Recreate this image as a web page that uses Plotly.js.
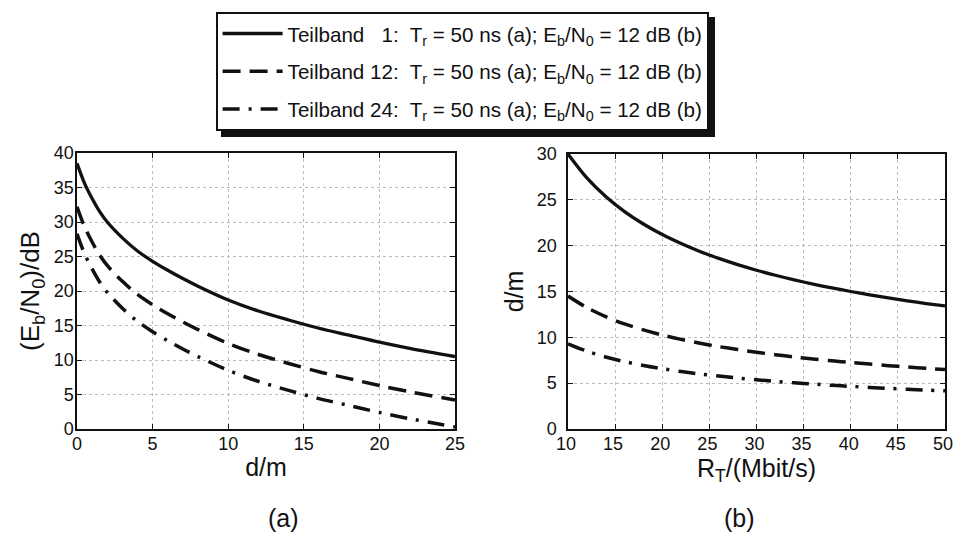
<!DOCTYPE html>
<html>
<head>
<meta charset="utf-8">
<script src="https://cdn.plot.ly/plotly-3.0.1.min.js"></script>
<style>
  html, body { margin: 0; padding: 0; background: #fff; }
  #chart { width: 953px; height: 535px; }
</style>
</head>
<body>
<div id="chart"></div>
<script>
// (a) Eb/N0 over distance d for three subbands
const distM = [0, 0.5, 1, 1.5, 2, 3, 4, 5, 6, 7, 8, 10, 12, 14, 16, 18, 20, 22, 25];
const ebn0Band1  = [38.5, 35.6, 33.4, 31.5, 30.0, 27.7, 25.8, 24.3, 23.0, 21.8, 20.7, 18.7, 17.1, 15.8, 14.6, 13.6, 12.6, 11.7, 10.5];
const ebn0Band12 = [32.2, 29.3, 27.1, 25.2, 23.7, 21.4, 19.5, 18.0, 16.7, 15.5, 14.4, 12.4, 10.8, 9.5, 8.3, 7.3, 6.3, 5.4, 4.2];
const ebn0Band24 = [28.3, 25.4, 23.2, 21.3, 19.8, 17.5, 15.6, 14.1, 12.8, 11.6, 10.5, 8.5, 6.9, 5.6, 4.4, 3.4, 2.4, 1.5, 0.3];

// (b) reachable distance over data rate R_T
const rateMbit = [10, 12, 14, 16, 18, 20, 22, 24, 26, 28, 30, 32, 34, 36, 38, 40, 42, 44, 46, 48, 50];
const distBand1  = [30.0, 27.39, 25.36, 23.72, 22.36, 21.21, 20.23, 19.36, 18.61, 17.93, 17.32, 16.77, 16.27, 15.81, 15.39, 15.0, 14.64, 14.30, 13.99, 13.69, 13.42];
const distBand12 = [14.5, 13.24, 12.26, 11.46, 10.81, 10.25, 9.78, 9.36, 8.99, 8.67, 8.37, 8.11, 7.86, 7.64, 7.44, 7.25, 7.08, 6.91, 6.76, 6.62, 6.48];
const distBand24 = [9.3, 8.49, 7.86, 7.35, 6.93, 6.58, 6.27, 6.00, 5.77, 5.56, 5.37, 5.20, 5.04, 4.90, 4.77, 4.65, 4.54, 4.43, 4.34, 4.24, 4.16];

const seriesNames = [
  'Teilband\u00a0\u00a0\u00a01:\u00a0 T<sub>r</sub> = 50 ns (a); E<sub>b</sub>/N<sub>0</sub> = 12 dB (b)',
  'Teilband 12:\u00a0 T<sub>r</sub> = 50 ns (a); E<sub>b</sub>/N<sub>0</sub> = 12 dB (b)',
  'Teilband 24:\u00a0 T<sub>r</sub> = 50 ns (a); E<sub>b</sub>/N<sub>0</sub> = 12 dB (b)'
];

const FONT = "'Liberation Sans Narrow', 'Arial Narrow', 'Liberation Sans', Arial, sans-serif";
const styles = [
  {color: '#111', width: 3.3, dash: 'solid'},
  {color: '#111', width: 3.5, dash: '18px,9px'},
  {color: '#111', width: 3.5, dash: '17px,9px,3px,9px'}
];

const leftY = [ebn0Band1, ebn0Band12, ebn0Band24];
const rightY = [distBand1, distBand12, distBand24];

const traces = [];
leftY.forEach((ys, i) => traces.push({
  x: distM, y: ys, xaxis: 'x', yaxis: 'y', mode: 'lines',
  line: Object.assign({shape: 'spline', smoothing: 0.9}, styles[i]),
  name: seriesNames[i], legendgroup: 'g' + i, showlegend: true
}));
rightY.forEach((ys, i) => traces.push({
  x: rateMbit, y: ys, xaxis: 'x2', yaxis: 'y2', mode: 'lines',
  line: Object.assign({shape: 'spline', smoothing: 0.9}, styles[i]),
  name: seriesNames[i], legendgroup: 'g' + i, showlegend: false
}));

const W = 953, H = 535;
const px = v => v / W;
const py = v => 1 - v / H;

function axisBase(extra) {
  return Object.assign({
    showline: true, mirror: 'ticks', linecolor: '#111', linewidth: 1.6,
    ticks: 'inside', ticklen: 5, tickcolor: '#111', tickwidth: 1,
    showgrid: true, gridcolor: '#bcbcbc', gridwidth: 1, griddash: 'dot',
    zeroline: false, tickfont: {family: FONT, size: 18, color: '#111'},
    ticklabeloverflow: 'allow', fixedrange: true
  }, extra);
}

const layout = {
  width: W, height: H,
  margin: {l: 0, r: 0, t: 0, b: 0},
  paper_bgcolor: '#fff', plot_bgcolor: '#fff',
  font: {family: FONT, color: '#111'},
  showlegend: true,
  legend: {
    x: px(216), y: py(12), xanchor: 'left', yanchor: 'top',
    bgcolor: '#fff', bordercolor: '#111', borderwidth: 1.6,
    font: {family: FONT, size: 20.6, color: '#111'},
    itemwidth: 60, tracegroupgap: 8
  },
  xaxis: axisBase({
    domain: [px(77), px(455)], range: [0, 25], tick0: 0, dtick: 5, anchor: 'y',
    ticklabelstandoff: -2,
    title: {text: 'd/m', font: {family: FONT, size: 25}, standoff: 5}
  }),
  yaxis: axisBase({
    domain: [py(429), py(153)], range: [0, 40], tick0: 0, dtick: 5, anchor: 'x',
    ticklabelstandoff: -2,
    title: {text: '(E<sub>b</sub>/N<sub>0</sub>)/dB', font: {family: FONT, size: 26}, standoff: 6}
  }),
  xaxis2: axisBase({
    domain: [px(568), px(945)], range: [10, 50], tick0: 10, dtick: 5, anchor: 'y2',
    ticklabelstandoff: -2, ticklabelshift: -2,
    title: {text: 'R<sub>T</sub>/(Mbit/s)', font: {family: FONT, size: 25}, standoff: 5}
  }),
  yaxis2: axisBase({
    domain: [py(429), py(154)], range: [0, 30], tick0: 0, dtick: 5, anchor: 'x2',
    ticklabelstandoff: 6,
    title: {text: 'd/m', font: {family: FONT, size: 25}, standoff: 6}
  }),
  shapes: [
    // drop shadow under the legend box
    {type: 'rect', xref: 'paper', yref: 'paper', layer: 'above',
     x0: px(221), x1: px(715), y0: py(137), y1: py(17),
     fillcolor: '#111', line: {width: 0}}
  ],
  annotations: [
    {text: '(a)', xref: 'paper', yref: 'paper', x: px(266), y: py(518), yanchor: 'middle',
     showarrow: false, font: {family: FONT, size: 25, color: '#111'}},
    {text: '(b)', xref: 'paper', yref: 'paper', x: px(757), y: py(518), yanchor: 'middle',
     showarrow: false, font: {family: FONT, size: 25, color: '#111'}}
  ]
};

Plotly.newPlot('chart', traces, layout, {displayModeBar: false, staticPlot: true});
</script>
</body>
</html>
